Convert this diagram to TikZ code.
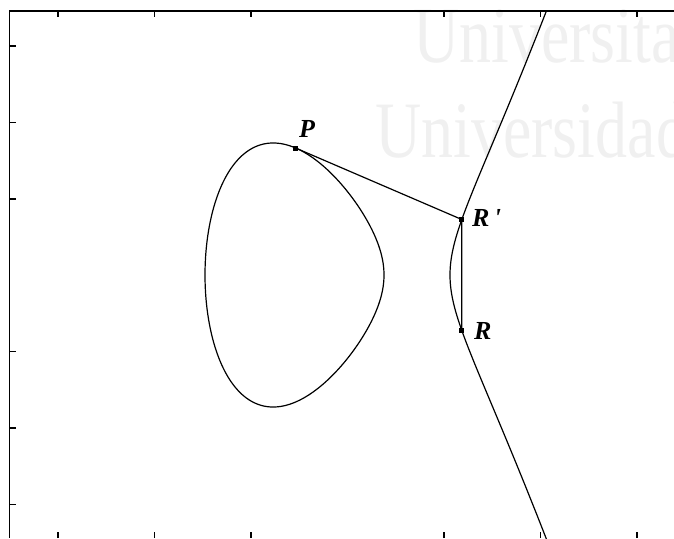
\documentclass[tikz,border=0pt]{standalone}
\usepackage{fontspec}
\setmainfont{Liberation Serif}
\begin{document}
\begin{tikzpicture}[x=1pt,y=-1pt,
  curve/.style={line width=1.2pt, line join=round},
  frameline/.style={line width=1.8pt},
  tickmark/.style={line width=1.4pt},
  ptmark/.style={fill=black, inner sep=0pt, minimum size=5pt},
  lab/.style={font=\fontsize{26}{26}\selectfont\bfseries\itshape, inner sep=0pt},
  wm/.style={text=black!6, font=\fontsize{80}{80}\selectfont, anchor=base west, inner sep=0pt}]
\useasboundingbox (0,0) rectangle (674,538);
% faint watermark
\begin{scope}
\clip (0,0) rectangle (674,538);
\node[wm] (w1) at (413,62) {\scalebox{0.8}[1]{Universitat}};
\node[wm] (w2) at (375,157) {\scalebox{0.8}[1]{Universidad}};
\end{scope}
% frame and ticks
\draw[frameline] (674,11) -- (9.5,11) -- (9.5,538);
\foreach \x in {58,154.5,251,444,540.5,637} {
  \draw[tickmark] (\x,11) -- (\x,17);
  \draw[tickmark] (\x,538) -- (\x,532);
}
\foreach \y in {46,122.5,199,351.5,428,504.5}
  \draw[tickmark] (9.5,\y) -- (16,\y);
% curve
\begin{scope}
\clip (9.5,11) rectangle (674,538);
\draw[curve] plot[domain=0:360, samples=241, smooth, variable=\a]
  ({294.5-89.5*cos(\a)}, {275-89.5*sin(\a)*sqrt(0.013042*(155.5+89.5*cos(\a)))});
\draw[curve] plot[domain=-10:10, samples=201, smooth, variable=\t]
  ({450+\t*\t}, {275-\t*sqrt(0.013042*(245+\t*\t))*sqrt(66+\t*\t)});
\end{scope}
% points
\node[ptmark] (P) at (295.7,148.05) {};
\node[ptmark] (Rp) at (461.8,219.5) {};
\node[ptmark] (R) at (461.8,330.5) {};
\draw[curve] (P.center) -- (Rp.center) -- (R.center);
\node[lab] (lP) at (307,129) {P};
\node[lab, anchor=west] (lRp) at (472,218) {R\,\textquotesingle};
\node[lab, anchor=west] (lR) at (474,331) {R};
\end{tikzpicture}
\end{document}
